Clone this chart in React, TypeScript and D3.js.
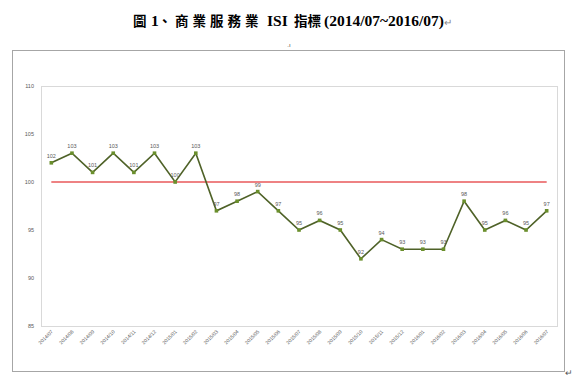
import React from "react";
import * as d3 from "d3";

const categories = [
  "2014/07","2014/08","2014/09","2014/10","2014/11","2014/12",
  "2015/01","2015/02","2015/03","2015/04","2015/05","2015/06",
  "2015/07","2015/08","2015/09","2015/10","2015/11","2015/12",
  "2016/01","2016/02","2016/03","2016/04","2016/05","2016/06","2016/07",
];
const isiValues = [102,103,101,103,101,103,100,103,97,98,99,97,95,96,95,92,94,93,93,93,98,95,96,95,97];
const baseline = 100;
const yTicks = [85, 90, 95, 100, 105, 110];
const titleParts = [
  { t: "圖", x: 133, cjk: true, sp: 0 },
  { t: "1", x: 151, cjk: false, sp: 0 },
  { t: "、", x: 158, cjk: true, sp: 0 },
  { t: "商業服務業", x: 175, cjk: true, sp: 4 },
  { t: "ISI", x: 267, cjk: false, sp: 0 },
  { t: "指標", x: 294, cjk: true, sp: 0 },
  { t: "(2014/07~2016/07)", x: 324, cjk: false, sp: 0 },
];

export default function App() {
  const W = 577, H = 383;
  const plot = { left: 41, top: 86, right: 557, bottom: 326 };
  const x = d3.scaleBand<string>().domain(categories).range([plot.left, plot.right]);
  const cx = (c: string) => (x(c) as number) + x.bandwidth() / 2;
  const y = d3.scaleLinear().domain([85, 110]).range([plot.bottom, plot.top]);
  const line = d3.line<number>().x((_, i) => cx(categories[i])).y((d) => y(d));
  const x0 = cx(categories[0]);
  const x1 = cx(categories[categories.length - 1]);

  return (
    <svg width={W} height={H} style={{ position: "absolute", left: 0, top: 0, background: "#fff" }}>
      <rect x={0} y={0} width={W} height={H} fill="#fff" />
      <text y={26} fontFamily="'Liberation Serif', 'Noto Sans CJK TC', serif" fontWeight="bold" fill="#000">
        {titleParts.map((p, i) => (
          <tspan key={i} x={p.x} fontSize={p.cjk ? 13.5 : 15.5} letterSpacing={p.sp}>{p.t}</tspan>
        ))}
        <tspan fill="#888" fontWeight="normal" fontSize={10}>↵</tspan>
      </text>
      <text x={289} y={47} textAnchor="middle" fontSize={6} fill="#444" fontFamily="Liberation Sans">.ı</text>
      {/* outer frame */}
      <rect x={12.5} y={50.5} width={552} height={321} fill="none" stroke="#a6a6a6" strokeWidth={1} />
      <text x={565} y={376} fontSize={9} fill="#555" fontFamily="Liberation Sans">↵</text>
      {/* plot area */}
      <rect x={plot.left + 0.5} y={plot.top + 0.5} width={plot.right - plot.left} height={plot.bottom - plot.top} fill="none" stroke="#d9d9d9" strokeWidth={1} />
      {yTicks.map((t) => (
        <text key={t} x={34} y={y(t) + 2} textAnchor="end" fontSize={5.5} fill="#595959" fontFamily="Liberation Sans">{t}</text>
      ))}
      {categories.map((c) => (
        <text key={c} transform={`translate(${cx(c) + 2},${plot.bottom + 6}) rotate(-45)`} textAnchor="end" fontSize={5} fill="#595959" fontFamily="Liberation Sans">{c}</text>
      ))}
      <line x1={x0} x2={x1} y1={y(baseline)} y2={y(baseline)} stroke="#e8585a" strokeWidth={1.3} />
      <path d={line(isiValues) ?? ""} fill="none" stroke="#4f6228" strokeWidth={1.6} />
      {isiValues.map((v, i) => (
        <rect key={i} x={cx(categories[i]) - 1.8} y={y(v) - 1.8} width={3.6} height={3.6} fill="#6a8f2c" />
      ))}
      {isiValues.map((v, i) => (
        <text key={"l" + i} x={cx(categories[i])} y={y(v) - 5} textAnchor="middle" fontSize={5.5} fill="#595959" fontFamily="Liberation Sans">{v}</text>
      ))}
    </svg>
  );
}
